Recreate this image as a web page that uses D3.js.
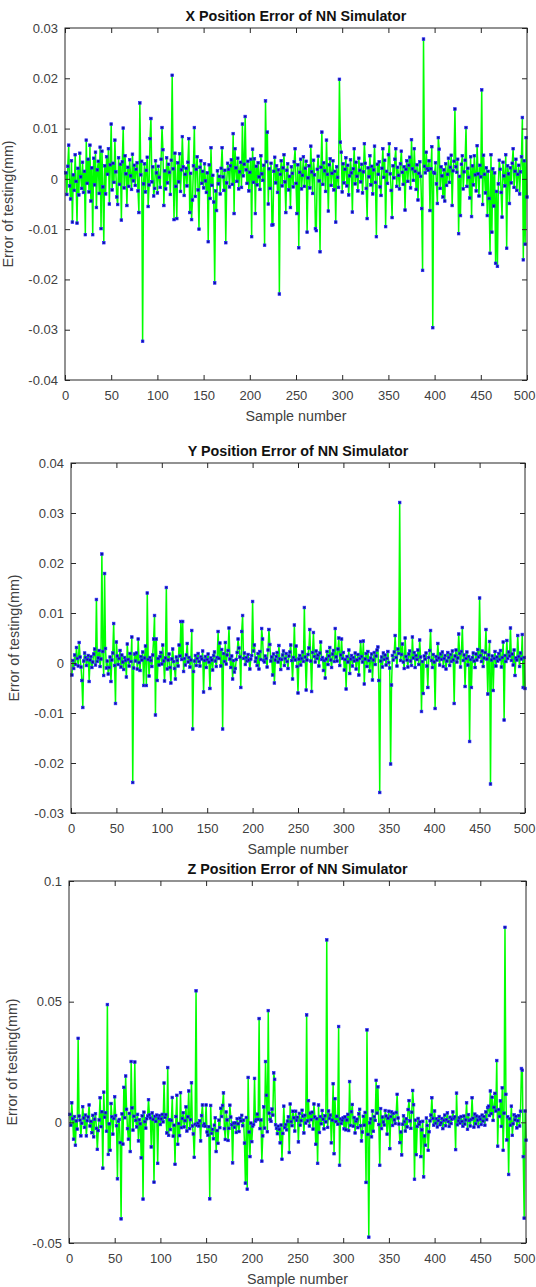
<!DOCTYPE html>
<html>
<head>
<meta charset="utf-8">
<script src="https://cdn.jsdelivr.net/npm/d3@7"></script>
<style>
  body { margin: 0; background: #fff; }
  svg { display: block; font-family: "Liberation Sans", Arial, Helvetica, sans-serif; }
</style>
</head>
<body>
<svg id="chart" width="536" height="1287"></svg>
<script>
// testing errors, in micrometres (0.001 mm), one value per sample 1..500
var xErr = [
  1.2, -3.1, 2.5, 6.7, -1.4, -4.0, 3.6, -8.6, 0.8, -2.3,
  4.8, -0.5, -8.8, 2.1, -3.2, 5.1, 0.4, -1.9, 3.3, -2.7,
  1.5, -11.1, 7.7, -0.9, 3.9, -2.6, 6.7, -4.4, 2.2, -11.1,
  4.1, -1.2, 5.3, -5.7, 1.8, 3.5, -2.9, 6.3, -9.9, 5.5,
  -1.6, -12.7, 2.6, -3.0, 4.4, 0.9, 6.0, -5.0, 2.8, 10.9,
  -2.2, 3.1, -0.7, 7.7, 1.4, -3.6, -5.1, 4.2, -1.1, 2.9,
  -8.2, 3.4, 10.1, -1.8, 4.6, 1.0, -5.3, 2.3, -1.5, 3.8,
  0.6, -2.1, 4.9, -0.4, 2.7, -1.3, 1.9, 3.2, -2.4, -6.7,
  15.1, 0.8, 3.5, -32.3, -1.0, 3.0, -2.6, 1.7, 4.3, -5.5,
  -1.2, 8.0, 12.0, -0.6, 2.4, -3.4, -1.9, 3.6, 1.2, -2.8,
  2.5, 0.3, -1.7, 3.9, 10.2, 5.8, -5.3, 1.6, -2.0, 4.2,
  -0.8, 2.9, 1.3, -3.1, 3.7, 20.6, 2.0, -8.1, 5.1, -1.5,
  -7.9, 3.2, -0.6, 5.0, -2.5, 1.8, 8.4, 2.4, -3.3, 0.9,
  2.1, -1.4, 3.3, 8.0, -6.7, 1.1, -8.1, -4.2, 2.6, 10.2,
  -3.5, 1.9, 4.4, -2.2, -10.0, 2.3, 3.6, -0.9, 1.5, -1.8,
  3.0, -0.4, -2.7, 1.2, -12.5, 2.8, -3.9, 6.2, -1.3, 0.7,
  -4.6, -20.7, -2.4, -6.3, 1.6, -1.0, 0.5, -3.0, 2.1, 6.2,
  0.4, -2.3, 1.7, -12.7, -0.8, 3.1, 1.9, -1.6, 2.6, 3.8,
  -1.1, 9.0, -6.9, 6.0, 2.2, -0.5, 4.1, -2.0, 1.4, 3.3,
  -1.7, 10.9, 0.6, 2.9, 12.4, 1.8, -0.9, 3.5, -2.4, 1.3,
  3.9, -11.5, 5.9, -0.7, 4.0, -6.9, 2.5, -1.2, 3.2, 0.4,
  -2.1, 4.6, 1.0, -0.3, 2.7, -13.2, 15.5, 3.4, 9.3, -5.0,
  2.0, -1.9, 3.1, -9.2, -9.1, 1.5, 4.3, -0.8, 2.6, -2.7,
  1.8, -22.9, 0.9, 3.6, -1.4, 2.2, 4.8, -0.6, -6.7, 1.7,
  3.0, -2.2, 0.5, -5.7, 2.4, 1.1, -1.6, 3.4, 6.0, -0.9,
  -6.9, 2.8, -13.7, 1.3, 3.9, -2.0, 0.7, 4.4, -1.5, 2.1,
  3.5, -10.6, 0.2, 2.6, -1.8, 6.5, 1.4, -2.9, 3.7, 0.8,
  -9.9, -10.3, 1.9, 4.5, -0.4, -14.5, 2.3, 9.3, -1.1, 3.2,
  1.6, -2.5, 7.7, 0.9, -6.4, 2.8, 4.0, -1.3, 1.1, 3.6,
  -2.2, 1.5, -8.6, 2.4, 0.3, -1.7, 19.8, 7.3, 5.3, -2.6,
  3.0, -0.8, 1.9, 4.2, -1.4, 2.7, -3.2, 0.6, 3.8, 1.2,
  -6.6, 2.0, 6.0, -1.0, 3.3, 0.5, -2.4, 4.1, 1.7, -0.6,
  2.9, -2.8, 1.4, 7.0, 3.1, -1.9, -7.9, 2.2, 0.4, 4.6,
  -1.2, 2.5, -3.0, 1.8, 6.5, -0.7, -11.5, 2.9, 0.9, 3.4,
  -1.6, -3.3, 2.1, 6.0, 0.3, 3.7, -9.5, 1.5, -0.9, 4.8,
  7.0, 1.0, -2.3, -7.7, 2.6, 0.2, 3.9, 6.0, -1.5, 2.3,
  0.7, -2.0, 3.0, 5.5, 1.3, -1.1, 2.4, -6.2, 1.9, 3.6,
  -0.5, 2.7, 4.3, -1.8, 7.8, 2.0, -0.3, 6.0, 1.5, -2.1,
  2.8, -4.2, 1.1, 3.4, 0.5, -5.9, -18.2, 27.8, 2.5, 1.2,
  5.3, 2.0, 1.7, 3.6, -6.3, 2.0, 6.4, -29.6, 1.3, 1.1,
  3.2, -1.0, -4.9, 8.2, 5.9, -1.9, 2.4, 0.6, -3.6, 1.8,
  -4.4, 3.0, -1.3, 0.9, 4.1, -0.7, 2.3, 4.7, -5.3, 1.6,
  3.5, 13.9, 2.4, 1.3, 3.9, -10.9, 0.5, -7.3, 2.9, 4.6,
  -2.0, 1.4, 3.7, 10.2, -1.5, 2.1, 0.3, -3.8, 4.4, -7.5,
  2.6, -1.2, 4.6, 0.8, -2.4, 6.6, 1.0, -3.4, 2.7, 0.4,
  17.7, -5.1, 4.7, 0.9, -2.8, 2.2, -7.3, 1.5, -3.9, -14.8,
  4.8, -10.6, 2.0, -5.4, 1.2, -16.8, -2.5, -17.4, -1.0, 3.7,
  1.9, -2.7, -7.6, 3.3, 0.6, -1.4, 4.8, -13.8, 2.6, 1.0,
  -4.9, 2.2, -0.8, 3.1, 6.0, -1.7, 1.5, 3.9, -2.3, 0.9,
  2.7, -3.0, 1.4, 4.4, 12.2, -16.1, 3.6, -13.0, 8.2, -3.6
]

var yErr = [
  -2.4, 0.5, -1.1, 1.6, -0.3, 3.1, 0.9, -0.6, 4.1, 1.2,
  -0.8, -3.5, -8.9, 0.4, 2.0, 1.1, -0.5, 0.7, 1.5, -3.7,
  0.6, 1.3, -0.9, 0.2, 1.8, 2.8, -0.4, 12.7, 0.3, 1.0,
  2.5, -0.7, 0.8, 21.8, 2.3, -2.5, 17.9, 2.9, -1.0, 0.4,
  -2.2, -0.9, 1.2, -3.7, 0.6, 2.0, 7.9, -0.5, -8.1, 4.2,
  1.4, -0.3, 0.9, 2.5, -0.8, 1.6, 0.2, -1.3, 1.1, 0.5,
  -2.8, 3.8, 0.7, -0.6, 1.9, 0.3, 5.2, -23.9, -1.0, 1.8,
  0.4, 2.0, -1.2, 4.8, 0.1, -1.5, 1.3, 0.6, 2.2, -4.5,
  1.0, 3.4, -4.5, 14.0, 0.7, -2.6, 1.1, 0.5, -0.7, 1.6,
  4.8, 9.5, -10.4, 4.8, -3.5, 0.9, -0.4, 1.3, 2.1, -0.2,
  3.6, 0.4, -3.6, 1.0, 15.1, -1.2, 0.6, 1.8, -0.9, -4.0,
  0.8, 2.8, 0.3, -1.1, -3.2, 1.2, 0.5, -0.6, 3.6, 1.4,
  8.3, 0.7, 8.3, -1.7, 0.9, -0.4, 1.6, 3.9, 0.2, 1.1,
  -0.8, 0.6, 6.5, -13.2, -1.7, 0.4, 1.5, -0.5, 0.9, 1.9,
  0.3, -0.6, 1.2, 0.8, 2.4, -5.8, 0.5, 1.3, -0.9, 0.7,
  1.8, 0.2, -5.1, 1.0, 0.6, -1.4, 1.5, 2.2, 0.4, -0.7,
  1.1, 6.3, 0.9, 4.0, -0.6, 2.7, -13.2, 1.9, 0.3, 4.1,
  -0.2, 1.6, 2.5, 7.0, 0.8, -0.9, 1.4, -3.2, 0.5, -1.8,
  -1.1, 0.7, 2.1, 4.8, 3.0, 1.2, -4.9, 6.3, 9.5, 0.9,
  2.0, -0.3, 1.1, 0.4, 1.7, 0.6, -1.2, 0.8, 1.5, 12.3,
  2.4, 3.6, 0.3, 1.0, -0.5, 1.9, -1.2, 2.3, 0.7, 6.9,
  4.8, 0.5, 0.2, 1.4, 0.9, -0.8, 2.6, 6.7, 3.7, 0.4,
  1.2, -2.4, 1.8, -4.0, 0.6, 1.3, 2.1, 0.2, 3.5, 0.8,
  -1.3, 0.7, 1.6, 2.4, -0.5, 0.9, 1.9, 0.3, -1.1, 1.4,
  2.2, 3.6, 0.5, -3.2, 1.1, 7.6, 0.6, 3.4, -0.7, -6.0,
  0.8, 1.5, -0.4, 0.9, 2.2, 0.3, 11.1, 1.2, -5.4, 0.6,
  1.7, 3.0, 6.7, 0.4, -5.7, 2.1, 6.1, 1.3, 0.2, 2.4,
  0.9, 1.6, -0.6, 2.0, 4.2, 0.7, 1.1, -1.5, 0.5, -3.0,
  0.8, 2.3, -0.3, 1.4, 3.1, 0.6, -0.9, 1.8, 2.5, 0.3,
  6.9, 1.2, 0.4, 2.8, 5.0, -0.5, 1.6, 4.8, 0.9, 2.1,
  -1.4, 0.7, -5.2, 1.3, 0.2, 2.6, -2.1, 0.8, 1.5, -0.6,
  1.1, 0.4, 2.0, -1.2, 0.6, 1.7, -2.4, 0.9, 4.3, 1.3,
  0.2, 4.4, -4.2, 0.8, 1.9, -0.7, 2.3, 0.5, -1.6, 1.0,
  1.8, -3.4, 0.6, 2.1, -0.3, 1.4, 2.6, 3.2, -3.5, -25.9,
  0.4, 1.2, -0.8, 2.0, 0.7, 1.6, -0.4, 0.9, 2.3, 0.1,
  -1.0, -20.2, -4.4, 1.5, 0.6, 2.2, 5.5, 1.1, -0.6, 2.8,
  1.9, 32.1, 0.5, 1.7, 3.8, 0.2, -1.1, 5.0, 1.3, 0.6,
  -0.8, 1.8, 2.4, 0.4, -0.5, 5.2, 1.0, 2.1, -0.9, 1.5,
  0.7, 2.6, -0.3, 4.6, 1.2, -9.7, 0.3, -6.1, 1.4, 0.8,
  2.0, -0.6, -4.9, 1.1, 2.5, 6.5, 0.5, -0.9, 1.7, 0.2,
  -9.1, 1.3, 0.6, 3.9, 1.0, -0.4, 1.8, 0.7, 2.2, -0.7,
  0.9, 1.5, -1.2, 0.4, 2.1, 1.1, -0.5, 1.7, 0.3, 2.4,
  0.6, -8.1, 1.4, 2.6, 0.2, 1.0, 5.8, 1.9, -0.8, 2.3,
  7.1, 0.5, 1.6, -4.7, 0.9, 2.2, -0.4, 1.3, -15.7, 0.7,
  -4.9, 1.1, 2.0, 0.4, -0.9, 1.8, 0.6, 2.7, 1.2, 13.0,
  1.5, 0.3, 2.4, -0.7, 1.0, 2.1, 6.7, 0.8, -6.2, 1.6,
  4.3, -24.2, 0.6, 1.4, -5.5, 0.9, 2.3, -0.6, 1.2, 0.4,
  1.9, 0.7, 2.5, -0.8, 1.1, 4.2, -11.4, 1.5, 0.3, 4.5,
  0.9, 2.2, 1.4, 7.0, 0.5, 1.8, -0.4, 2.6, -2.5, 1.0,
  0.6, 5.5, 1.3, -0.7, 2.0, 0.8, 5.7, -4.9, 1.1, -5.1
]

var zErr = [
  3.3, -1.2, 8.1, 1.5, -7.0, 2.4, -9.5, 0.6, -2.8, 34.8,
  2.6, 0.9, -5.6, -0.4, 6.5, 1.8, -2.1, 3.0, -5.6, 0.7,
  2.2, 7.2, -1.5, 0.4, -4.3, 2.9, -6.0, 1.3, 3.6, -2.5,
  -11.2, -3.4, 1.0, 10.2, -1.8, 4.4, -19.0, 12.5, 2.1, 4.0,
  -3.7, 48.8, -13.3, -0.6, -11.6, 7.8, 2.3, -4.9, 1.6, 10.6,
  2.8, -1.4, -23.4, 0.5, 1.2, -8.4, -40.0, 3.5, -9.0, 14.5,
  1.9, 19.2, 5.4, -2.6, -7.0, 3.7, -12.1, 25.2, 6.0, -3.2,
  2.5, 25.0, 0.8, -1.9, 3.3, -7.7, 1.1, -0.6, -14.7, 2.7,
  -31.8, 4.2, 0.3, -2.4, 1.5, 2.6, 9.4, 3.1, 1.8, -10.2,
  3.9, 1.2, -24.8, 2.5, 0.4, 3.0, -17.0, 1.7, 2.8, -0.9,
  1.4, 3.3, 0.2, 16.3, 2.0, 3.2, -4.4, 22.7, -5.4, 1.1,
  -3.0, 0.8, 10.3, -5.7, -1.2, -17.4, 2.4, 11.2, -9.1, -0.5,
  -5.5, 12.3, -2.2, 1.6, 4.0, -1.9, 0.7, 6.4, -3.6, 2.3,
  13.0, -2.6, 1.1, 16.4, -1.5, -4.8, -14.5, -0.8, 54.5, -1.3,
  -0.4, -1.5, 0.6, -7.7, 2.8, 7.2, -1.4, -0.7, -1.6, 7.2,
  -4.0, -5.3, -1.8, -31.7, 7.0, -4.6, -2.9, -6.8, -1.2, 1.9,
  -12.1, -3.4, -8.7, 0.9, -2.2, 5.8, 2.4, 7.0, 12.2, -2.6,
  -7.1, 4.3, 1.0, -7.5, -2.5, 7.1, 2.2, -1.0, -16.8, -0.3,
  -2.1, -0.2, -4.2, 1.5, -0.6, -3.8, 1.7, 0.6, 2.9, -1.4,
  0.9, -8.6, -25.2, 2.0, -27.7, 18.6, -4.0, -14.2, -0.3, -8.0,
  -1.5, -0.9, 18.2, 0.5, 1.1, 3.4, 1.2, 43.0, -2.6, 1.0,
  -16.1, -5.6, 6.4, -2.4, 25.2, 11.2, -3.9, 46.3, 3.8, 1.2,
  0.4, 5.5, 3.0, 20.5, 17.8, -1.0, -2.5, -4.7, -1.6, -2.9,
  -8.5, -1.1, -15.3, -4.6, 6.7, -2.2, -0.9, -3.1, 0.5, 2.3,
  -12.5, 7.6, 0.3, -1.4, 4.6, 1.9, -3.6, 4.6, 0.8, 2.1,
  -8.1, 3.7, -1.2, 0.7, 5.0, 2.6, -4.4, 2.9, -0.3, 44.5,
  0.6, 9.0, -1.5, 3.8, 1.1, 4.2, -2.8, 7.6, 2.2, -9.1,
  1.5, -17.0, 7.2, -4.2, 2.4, -0.6, 4.9, 1.3, -2.7, 2.7,
  0.2, 75.6, -2.1, 4.7, 1.6, 3.0, -8.5, 0.9, 16.0, -13.0,
  9.8, 0.3, 2.5, -0.8, 39.7, -17.8, 1.4, -0.5, 0.9, 1.9,
  -2.7, 2.3, -3.1, 1.0, 3.3, -3.4, 16.9, -1.3, 4.4, 7.4,
  -1.6, 2.0, -4.4, 0.6, 1.3, -2.2, 3.5, 5.4, -1.4, -7.7,
  -4.0, 2.5, -1.2, 4.1, -24.9, 38.3, -5.0, -47.6, -0.2, 1.4,
  -6.0, 4.7, -3.7, 2.4, 0.8, 17.4, 3.8, 14.7, -0.9, -17.8,
  5.7, -2.6, 2.2, 0.1, -1.1, 4.9, 2.6, -4.9, 1.7, 4.6,
  -10.9, 2.4, 4.3, -1.3, 3.7, 1.0, -0.5, 4.1, 11.6, 1.8,
  -0.7, -8.4, -4.0, -13.5, -0.8, 2.7, 0.3, -3.6, 1.5, -1.9,
  5.3, 9.0, 0.6, -2.5, 4.2, 13.2, 7.3, -23.6, 0.9, -13.4,
  -1.7, 1.6, -0.8, 0.2, -14.2, -3.1, 0.4, -22.6, -5.6, -9.5,
  1.8, -1.3, -11.6, -3.9, 0.6, 3.0, 10.2, 1.6, -1.2, 4.7,
  -0.4, 1.5, -1.9, 0.7, 2.4, -1.0, -0.2, 1.6, -2.6, 0.8,
  3.0, -1.4, 1.1, 3.9, 0.3, -1.7, 2.1, -0.5, 1.3, 4.3,
  1.7, 2.3, -11.3, 12.1, -1.0, 0.6, 1.9, -0.3, 2.4, 0.4,
  -1.6, 2.6, -0.7, 1.0, 8.1, -2.9, 3.2, 0.8, -1.5, 1.2,
  10.2, 1.7, -2.0, 3.4, -0.6, 2.6, 0.9, -1.8, 2.2, 1.3,
  -0.9, 3.0, 0.5, 2.4, -1.2, 4.3, 1.1, 6.1, 6.7, 2.8,
  13.0, 3.6, 10.4, 0.8, 6.2, 12.0, 4.7, 25.6, -9.9, 5.3,
  2.4, 8.9, -1.7, 14.3, -11.6, 3.8, 80.8, 11.6, -7.3, 2.3,
  -21.6, 1.5, -1.2, 6.7, -5.4, -0.6, 3.1, 1.0, 2.5, -2.3,
  0.7, 2.8, -1.5, 4.6, 22.3, 21.6, -14.2, -39.7, 4.7, -7.4
]

var sampleTicks = [0, 50, 100, 150, 200, 250, 300, 350, 400, 450, 500]

var xErrTicks = [30, 20, 10, 0, -10, -20, -30, -40]
var xErrTickLabels = ["0.03", "0.02", "0.01", "0", "-0.01", "-0.02", "-0.03", "-0.04"]
var yErrTicks = [40, 30, 20, 10, 0, -10, -20, -30]
var yErrTickLabels = ["0.04", "0.03", "0.02", "0.01", "0", "-0.01", "-0.02", "-0.03"]
var zErrTicks = [100, 50, 0, -50]
var zErrTickLabels = ["0.1", "0.05", "0", "-0.05"]

var titles = ["X Position Error of NN Simulator", "Y Position Error of NN Simulator", "Z Position Error of NN Simulator"]

// pixel box of each subplot
var panels = [
    { title: titles[0], data: xErr, ticks: xErrTicks, labels: xErrTickLabels, left: 65, right: 527, top: 28, bottom: 380 },
    { title: titles[1], data: yErr, ticks: yErrTicks, labels: yErrTickLabels, left: 71, right: 525, top: 463, bottom: 813 },
    { title: titles[2], data: zErr, ticks: zErrTicks, labels: zErrTickLabels, left: 69, right: 526, top: 881, bottom: 1243 }
]

var axisColor = "#262626"
var textColor = "#404040"
var pageWidth = 536

var svg = d3.select("#chart")

panels.forEach(function (p) {

    var xScale = d3.scaleLinear()
        .domain([sampleTicks[0], sampleTicks[sampleTicks.length - 1]])
        .range([p.left, p.right])

    var yScale = d3.scaleLinear()
        .domain([p.ticks[p.ticks.length - 1], p.ticks[0]])
        .range([p.bottom, p.top])

    var g = svg.append("g")

    // series: green line, blue square markers
    var lineGen = d3.line()
        .x((d, i) => xScale(i + 1))
        .y(d => yScale(d))

    g.append("path")
        .datum(p.data)
        .attr("d", lineGen)
        .attr("fill", "none")
        .attr("stroke", "#00ff00")
        .attr("stroke-width", 1.5)
        .attr("stroke-linejoin", "round")

    g.selectAll("rect.mark")
        .data(p.data)
        .join("rect")
        .attr("class", "mark")
        .attr("x", (d, i) => xScale(i + 1) - 1.3)
        .attr("y", d => yScale(d) - 1.3)
        .attr("width", 2.6)
        .attr("height", 2.6)
        .attr("fill", "#10109a")
        .attr("stroke", "#2a2aff")
        .attr("stroke-width", 0.7)

    // box
    g.append("rect")
        .attr("x", p.left)
        .attr("y", p.top)
        .attr("width", p.right - p.left)
        .attr("height", p.bottom - p.top)
        .attr("fill", "none")
        .attr("stroke", axisColor)
        .attr("stroke-width", 1)

    var xAxisgen = d3.axisBottom(xScale).tickValues(sampleTicks).tickSizeInner(-5).tickSizeOuter(0).tickPadding(11)
    var xTopgen = d3.axisTop(xScale).tickValues(sampleTicks).tickSizeInner(-5).tickSizeOuter(0).tickFormat("")
    var yAxisgen = d3.axisLeft(yScale).tickValues(p.ticks).tickSizeInner(-5).tickSizeOuter(0).tickPadding(7)
        .tickFormat((d, i) => p.labels[i])
    var yRightgen = d3.axisRight(yScale).tickValues(p.ticks).tickSizeInner(-5).tickSizeOuter(0).tickFormat("")

    var xAxis = g.append("g").attr("transform", `translate(0,${p.bottom})`).call(xAxisgen)
    var axes = [
        xAxis,
        g.append("g").attr("transform", `translate(0,${p.top})`).call(xTopgen),
        g.append("g").attr("transform", `translate(${p.left},0)`).call(yAxisgen),
        g.append("g").attr("transform", `translate(${p.right},0)`).call(yRightgen)
    ]
    axes.forEach(function (a) {
        a.attr("font-family", null).attr("font-size", 13)
        a.select(".domain").remove()
        a.selectAll(".tick line").attr("stroke", axisColor)
        a.selectAll(".tick text").attr("fill", textColor)
    })

    // keep the last x tick label inside the page
    xAxis.selectAll(".tick text").each(function () {
        var box = this.getBBox()
        var ctm = this.getCTM()
        var overflow = ctm.e + box.x + box.width - pageWidth
        if (overflow > 0) d3.select(this).attr("x", -overflow - 0.5)
    })

    g.append("text")
        .attr("x", (p.left + p.right) / 2)
        .attr("y", p.top - 7)
        .attr("text-anchor", "middle")
        .attr("font-size", 14.3)
        .attr("font-weight", "bold")
        .attr("fill", "#111")
        .text(p.title)

    g.append("text")
        .attr("x", (p.left + p.right) / 2)
        .attr("y", p.bottom + 41)
        .attr("text-anchor", "middle")
        .attr("font-size", 14.3)
        .attr("fill", textColor)
        .text("Sample number")

    g.append("text")
        .attr("transform", `translate(${p.left - 52},${(p.top + p.bottom) / 2}) rotate(-90)`)
        .attr("text-anchor", "middle")
        .attr("font-size", 14.3)
        .attr("fill", textColor)
        .text("Error of testing(mm)")
})
</script>
</body>
</html>
